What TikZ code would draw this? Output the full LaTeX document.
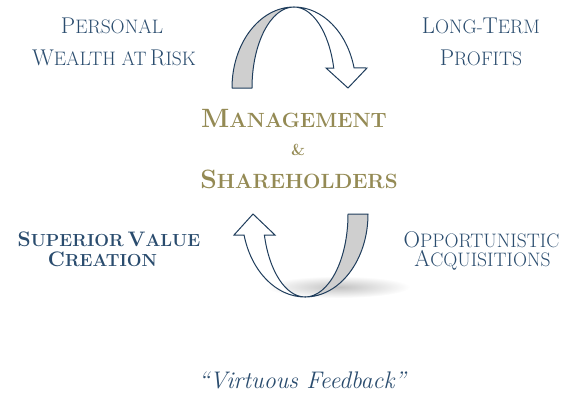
\documentclass[tikz,border=0pt]{standalone}
\definecolor{txtblue}{HTML}{2A4C6E}
\definecolor{arrblue}{HTML}{1F3D5C}
\definecolor{goldtxt}{HTML}{948A54}
\definecolor{bandgray}{HTML}{CFCFCF}
% fake small caps: regular (blue), bold (blue), bold (gold)
\newcommand{\screg}[2]{{\fontsize{22.8}{24}\selectfont #1}{\fontsize{19.5}{21}\selectfont #2}}
\newcommand{\scbb}[2]{{\fontsize{21}{23}\selectfont #1}{\fontsize{17.5}{19}\selectfont #2}}
\newcommand{\scgold}[2]{{\fontsize{26.5}{28}\selectfont #1}{\fontsize{20.6}{22}\selectfont #2}}
\begin{document}
\begin{tikzpicture}[x=1pt,y=-1pt,
  regtxt/.style={anchor=base, inner sep=0pt, text=txtblue},
  boldtxt/.style={anchor=base, inner sep=0pt, text=txtblue, font=\bfseries},
  goldlbl/.style={anchor=base, inner sep=0pt, text=goldtxt, font=\bfseries},
  backband/.style={fill=bandgray, draw=arrblue, line width=1pt, line join=round},
  frontband/.style={fill=white, draw=arrblue, line width=1pt, line join=miter}]
\useasboundingbox (0,0) rectangle (569,396);

% shadow under the lower arrow
\shade[inner color=black!24, outer color=white] (338,287) ellipse [x radius=72, y radius=11];

% ---- upper arrow ----
\coordinate (topapex) at (294,7);
\coordinate (tlout) at (232,88);
\coordinate (tlin) at (252,88);
\coordinate (trout) at ({294+62*cos(14.3)},68);
\coordinate (trin) at ({294+41*cos(14.3)},68);
\coordinate (thr) at (367,68);
\coordinate (thl) at (326,68);
\coordinate (ttip) at (348,88);
\path[backband] (tlout) arc[start angle=180, end angle=270, x radius=62, y radius=81]
  arc[start angle=270, end angle=180, x radius=42, y radius=81] -- cycle;
\path[frontband] (topapex) arc[start angle=270, end angle=345.7, x radius=62, y radius=81]
  -- (thr) -- (ttip) -- (thl) -- (trin)
  arc[start angle=345.7, end angle=270, x radius=41, y radius=81] -- cycle;

% ---- lower arrow ----
\coordinate (botapex) at (305,297);
\coordinate (brout) at (368,214);
\coordinate (blout) at ({305-63*cos(14.7)},235);
\coordinate (blin) at ({305-42*cos(14.7)},235);
\coordinate (bhl) at (234,235);
\coordinate (bhr) at (275,235);
\coordinate (btip) at (253,214);
\path[backband] (brout) arc[start angle=0, end angle=90, x radius=63, y radius=83]
  arc[start angle=90, end angle=0, x radius=43, y radius=83] -- cycle;
\path[frontband] (botapex) arc[start angle=90, end angle=165.3, x radius=63, y radius=83]
  -- (bhl) -- (btip) -- (bhr) -- (blin)
  arc[start angle=165.3, end angle=90, x radius=42, y radius=83] -- cycle;

% ---- texts ----
\node[regtxt] (pw1) at (112,33.3) {\screg{P}{ERSONAL}};
\node[regtxt] (pw2) at (114,65) {\screg{W}{EALTH AT} \screg{R}{ISK}};
\node[regtxt] (lt1) at (481,34) {\screg{L}{ONG-}\screg{T}{ERM}};
\node[regtxt] (lt2) at (481,65) {\screg{P}{ROFITS}};
\node[goldlbl] (ms1) at (294,127.3) {\scgold{M}{ANAGEMENT}};
\node[goldlbl, font=\bfseries\fontsize{16}{18}\selectfont] (ms2) at (298,155) {\&};
\node[goldlbl] (ms3) at (299,188.3) {\scgold{S}{HAREHOLDERS}};
\node[boldtxt] (sv1) at (109,246) {\scbb{S}{UPERIOR} \scbb{V}{ALUE}};
\node[boldtxt] (sv2) at (102.5,266.7) {\scbb{C}{REATION}};
\node[regtxt] (oa1) at (481.5,247.3) {\screg{O}{PPORTUNISTIC}};
\node[regtxt] (oa2) at (482.5,266.7) {\screg{A}{CQUISITIONS}};
\node[regtxt, font=\itshape\fontsize{24}{26}\selectfont] (vf) at (302,388) {``Virtuous Feedback''};
\end{tikzpicture}
\end{document}
